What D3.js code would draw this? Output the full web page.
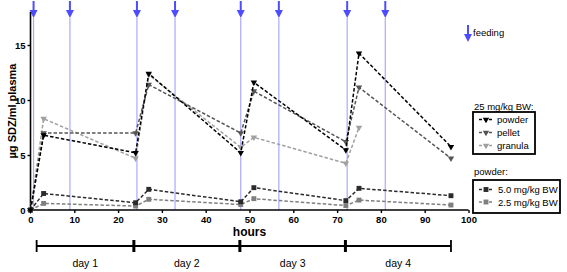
<!DOCTYPE html>
<html>
<head>
<meta charset="utf-8">
<script src="https://cdn.jsdelivr.net/npm/d3@7"></script>
<style>
	body { margin: 0; background: #fff; }
	svg { display: block; font-family: Arial, 'Liberation Sans', sans-serif; }
</style>
</head>
<body>
<svg width="567" height="272"></svg>
<script>
// sampling times (h)
const hours = [0, 3, 24, 27, 48, 51, 72, 75, 96]
// 25 mg/kg BW
const powder = [0, 6.8, 5.2, 12.4, 5.2, 11.6, 5.45, 14.25, 5.75]
const pellet = [0, 7.0, 7.0, 11.4, 7.0, 10.8, 6.2, 11.15, 4.7]
const granula = [0, 8.3, 4.7, 12.3, 5.7, 6.6, 4.25, 7.5]
// powder, lower doses
const dose50 = [0, 1.5, 0.66, 1.88, 0.75, 2.03, 0.85, 1.97, 1.3]
const dose25 = [0, 0.6, 0.36, 0.97, 0.5, 1.03, 0.4, 0.9, 0.45]

const feedings = [0.7, 9, 24.3, 33, 48, 56.7, 72.3, 81]
const xTicks = [0, 10, 20, 30, 40, 50, 60, 70, 80, 90, 100]
const yTicks = [0, 5, 10, 15]
const dayEdges = [1.4, 23.6, 47.8, 71.9, 96]
const dayLabels = ['day 1', 'day 2', 'day 3', 'day 4']

const svg = d3.select('svg')

let x = d3.scaleLinear().domain([0, 100]).range([30.5, 468.5])
let y = d3.scaleLinear().domain([0, 18]).range([210, 12])

// feeding lines
let feedG = svg.append('g')
feedG.selectAll('line')
	.data(feedings)
	.enter()
	.append('line')
	.attr('x1', d => x(d)).attr('x2', d => x(d))
	.attr('y1', 18).attr('y2', y(0))
	.attr('stroke', '#a9a9ff')
	.attr('stroke-width', 1.2)

function arrow(g, cx, top) {
	g.append('line')
		.attr('x1', cx).attr('x2', cx)
		.attr('y1', top).attr('y2', top + 10)
		.attr('stroke', '#4d4dff').attr('stroke-width', 2)
	g.append('path')
		.attr('d', `M${cx - 4},${top + 9} L${cx + 4},${top + 9} L${cx},${top + 17} Z`)
		.attr('fill', '#4d4dff')
}
feedings.forEach(f => arrow(feedG, x(f), 1))

// axes
let yAxis = d3.axisLeft(y).tickValues(yTicks).tickSize(3).tickPadding(2)
let yG = svg.append('g')
	.attr('transform', `translate(${x(0)},0)`)
	.call(yAxis)
let xAxis = d3.axisBottom(x).tickValues(xTicks).tickSize(3).tickPadding(3)
let xG = svg.append('g')
	.attr('transform', `translate(0,${y(0)})`)
	.call(xAxis)
;[xG, yG].forEach(g => {
	g.select('.domain').attr('stroke', '#000').attr('stroke-width', 1.6)
	g.selectAll('.tick line').attr('stroke', '#000').attr('stroke-width', 1.4)
	g.selectAll('.tick text')
		.attr('font-size', 9.5)
		.attr('font-weight', 'bold')
		.attr('fill', '#000')
		.attr('font-family', 'Arial, Liberation Sans, sans-serif')
})
xG.select('.domain').attr('d', `M${x(0)},0H${x(100)}`)
yG.select('.domain').attr('d', `M0,${y(18)}V${y(0)}`)

svg.append('text')
	.attr('transform', `translate(16,${(y(0) + y(18)) / 2}) rotate(-90)`)
	.attr('text-anchor', 'middle')
	.attr('font-size', 11)
	.attr('font-weight', 'bold')
	.text('µg SDZ/ml plasma')

svg.append('text')
	.attr('x', x(50)).attr('y', 236)
	.attr('text-anchor', 'middle')
	.attr('font-size', 12)
	.attr('font-weight', 'bold')
	.text('hours')

// series
const series = [
	{ name: 'powder', values: powder, color: '#000', shape: 'tri' },
	{ name: 'pellet', values: pellet, color: '#555', shape: 'tri' },
	{ name: 'granula', values: granula, color: '#a0a0a0', shape: 'tri' },
	{ name: '5.0 mg/kg BW', values: dose50, color: '#2b2b2b', shape: 'sq' },
	{ name: '2.5 mg/kg BW', values: dose25, color: '#7f7f7f', shape: 'sq' }
]

const triangle = d3.symbol().type(d3.symbolTriangle).size(18)
const square = d3.symbol().type(d3.symbolSquare).size(24)

let line = d3.line()
	.x(d => x(d[0]))
	.y(d => y(d[1]))

let plotG = svg.append('g')
series.slice().reverse().forEach(s => {
	let pts = s.values.map((v, i) => [hours[i], v])
	plotG.append('path')
		.attr('d', line(pts))
		.attr('fill', 'none')
		.attr('stroke', s.color)
		.attr('stroke-width', 1.5)
		.attr('stroke-dasharray', '3.5,2')
	plotG.selectAll(null)
		.data(pts)
		.enter()
		.append('path')
		.attr('transform', d => s.shape === 'tri'
			? `translate(${x(d[0])},${y(d[1])}) rotate(180)`
			: `translate(${x(d[0])},${y(d[1])})`)
		.attr('d', s.shape === 'tri' ? triangle : square)
		.attr('fill', s.color)
})

// feeding legend
arrow(svg.append('g'), 468, 25)
svg.append('text')
	.attr('x', 473).attr('y', 36)
	.attr('font-size', 9.5)
	.text('feeding')

function legendBox(title, titleY, box, items) {
	svg.append('text')
		.attr('x', box[0] + 1).attr('y', titleY)
		.attr('font-size', 9.5)
		.text(title)
	svg.append('rect')
		.attr('x', box[0]).attr('y', box[1])
		.attr('width', box[2]).attr('height', box[3])
		.attr('fill', 'none')
		.attr('stroke', '#000')
		.attr('stroke-width', 1.8)
	items.forEach((s, i) => {
		let cy = box[1] + box[4] + i * box[5]
		let lx = box[0] + 6
		svg.append('line')
			.attr('x1', lx).attr('x2', lx + 14)
			.attr('y1', cy).attr('y2', cy)
			.attr('stroke', s.color)
			.attr('stroke-width', 1.5)
			.attr('stroke-dasharray', '3,2')
		svg.append('path')
			.attr('transform', s.shape === 'tri'
				? `translate(${lx + 7},${cy}) rotate(180)`
				: `translate(${lx + 7},${cy})`)
			.attr('d', s.shape === 'tri' ? triangle : square)
			.attr('fill', s.color)
		svg.append('text')
			.attr('x', box[0] + box[6]).attr('y', cy + 3.5)
			.attr('font-size', 9.5)
			.text(s.name)
	})
}
legendBox('25 mg/kg BW:', 110, [473, 112, 62, 42, 7.5, 13, 24], series.slice(0, 3))
legendBox('powder:', 175, [473, 180, 87, 33, 9.5, 12.5, 25], series.slice(3))

// day bar
let dayG = svg.append('g')
dayG.append('line')
	.attr('x1', x(dayEdges[0])).attr('x2', x(dayEdges[dayEdges.length - 1]))
	.attr('y1', 246).attr('y2', 246)
	.attr('stroke', '#000').attr('stroke-width', 2)
dayG.selectAll('.dtick')
	.data(dayEdges)
	.enter()
	.append('line')
	.attr('x1', d => x(d)).attr('x2', d => x(d))
	.attr('y1', 240).attr('y2', 252)
	.attr('stroke', '#000')
	.attr('stroke-width', (d, i) => (i === 0 || i === dayEdges.length - 1) ? 1.8 : 3)
dayG.selectAll('text')
	.data(dayLabels)
	.enter()
	.append('text')
	.attr('x', (d, i) => (x(dayEdges[i]) + x(dayEdges[i + 1])) / 2)
	.attr('y', 267)
	.attr('text-anchor', 'middle')
	.attr('font-size', 10.5)
	.text(d => d)
</script>
</body>
</html>
